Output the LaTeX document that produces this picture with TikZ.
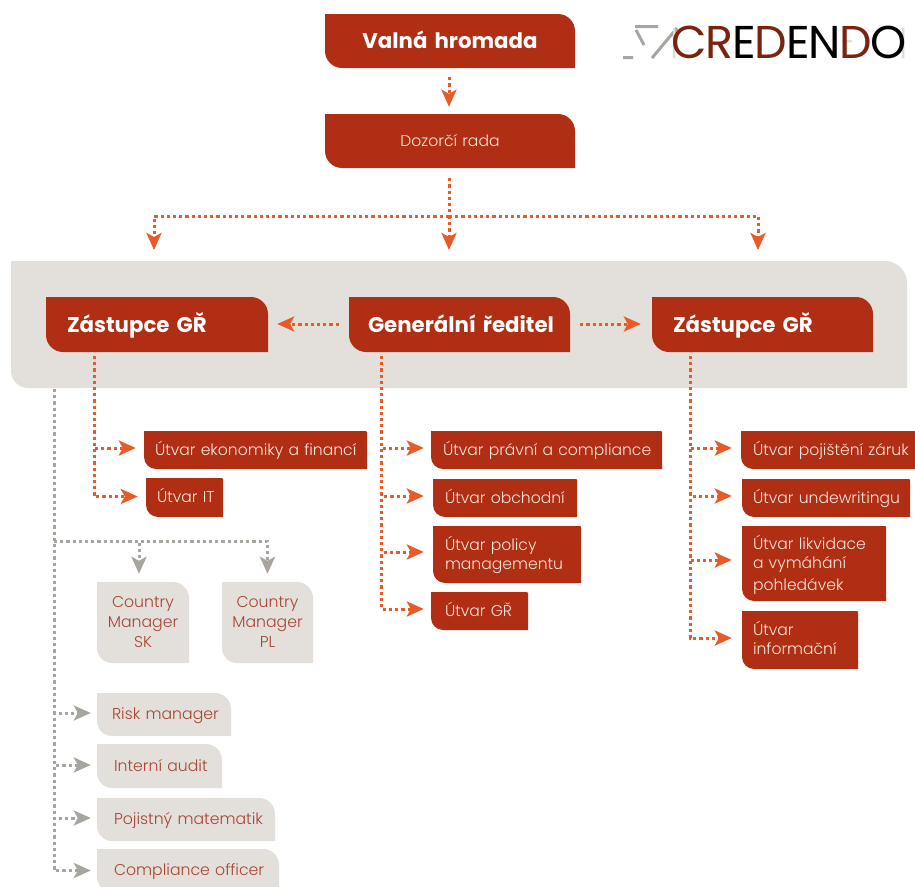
\documentclass[tikz,border=0pt]{standalone}
\usepackage{fontspec}
\setmainfont{Poppins}[UprightFont=* Light,BoldFont=* Bold]
\newfontfamily\logofont{Poppins}
\usetikzlibrary{arrows.meta,calc}
\definecolor{redbox}{HTML}{B02E13}
\definecolor{panelc}{HTML}{E3E0DC}
\definecolor{orangel}{HTML}{E85A28}
\definecolor{grayl}{HTML}{A8A5A0}
\definecolor{redtxt}{HTML}{A94433}
\definecolor{lightt}{HTML}{F6E6DC}
\definecolor{brownl}{HTML}{7A2410}
\definecolor{ghost}{HTML}{DDDAD7}
\tikzset{
 big shape/.style={fill=redbox,/utils/exec={\def\rtr{17}\def\rbl{17}}},
 mid shape/.style={big shape},
 bigc shape/.style={big shape},
 small shape/.style={fill=redbox,/utils/exec={\def\rtr{1}\def\rbl{12}}},
 soft shape/.style={fill=panelc,/utils/exec={\def\rtr{16}\def\rbl{15}}},
 softc shape/.style={soft shape},
 panel shape/.style={fill=panelc,/utils/exec={\def\rtr{22}\def\rbl{17}}},
 leftpad/.style={align=left,/utils/exec={\def\bxpre##1{\leftskip=##1pt\relax}}},
 centerpad/.style={align=center,/utils/exec={\def\bxpre##1{}}},
 big text/.style={font=\fontsize{21.3}{24}\selectfont\bfseries,text=white,leftpad},
 bigc text/.style={font=\fontsize{21.3}{24}\selectfont\bfseries,text=white,centerpad},
 mid text/.style={font=\fontsize{15.6}{19}\selectfont,text=lightt,centerpad},
 small text/.style={font=\fontsize{15.6}{19}\selectfont,text=lightt,leftpad},
 soft text/.style={font=\fontsize{15.7}{20}\selectfont,text=redtxt,leftpad},
 softc text/.style={font=\fontsize{15.7}{20}\selectfont,text=redtxt,centerpad},
 panel text/.style={centerpad},
 olink/.style={orangel,line width=3pt,dash pattern=on 3.2pt off 3pt,-{Stealth[length=17pt,width=15pt,inset=4pt]}},
 oline/.style={orangel,line width=3pt,dash pattern=on 3.2pt off 3pt},
 glink/.style={grayl,line width=3pt,dash pattern=on 3.2pt off 3pt,-{Stealth[length=17pt,width=15pt,inset=4pt]}},
 gline/.style={grayl,line width=3pt,dash pattern=on 3.2pt off 3pt},
 gap/.style={shorten >=8pt},
 logomark/.style={grayl,line width=3pt},
 logoghost/.style={ghost,line width=2.5pt},
}
% [kind]{name}{x1}{y1}{x2}{y2}{pad}{text}
\newcommand{\bx}[8][small]{%
 \fill[#1 shape] (#3,#4) -- (#5-\rtr,#4) .. controls (#5-0.45*\rtr,#4) and (#5,#4+0.45*\rtr) .. (#5,#4+\rtr) -- (#5,#6) -- (#3+\rbl,#6) .. controls (#3+0.45*\rbl,#6) and (#3,#6-0.45*\rbl) .. (#3,#6-\rbl) -- cycle;
 \pgfmathsetmacro{\bxw}{#5-#3}
 \pgfmathsetmacro{\bxh}{#6-#4}
 \node[#1 text,inner xsep=0pt,inner ysep=0pt,text width=\bxw pt,minimum height=\bxh pt] (#2) at ({(#3+#5)/2},{(#4+#6)/2}) {\bxpre{#7}\vphantom{Úp}#8\vphantom{Úp}\par};
}
\begin{document}
\begin{tikzpicture}[x=1pt,y=-1pt]
\useasboundingbox (0,0) rectangle (915,886);
% panel
\bx[panel]{panel}{11}{261}{907}{388}{0}{}
% top
\bx[bigc]{valna}{325}{14}{575}{68}{0}{Valná hromada}
\bx[mid]{dozor}{325}{114}{575}{168}{0}{Dozorčí rada}
% level 2
\bx[big]{zl}{46}{297}{268}{352}{21}{Zástupce GŘ}
\bx[big]{gr}{349}{297}{570}{352}{19}{Generální ředitel}
\bx[big]{zr}{652}{297}{873}{352}{21}{Zástupce GŘ}
% left column
\bx{ek}{144}{431}{367}{469}{11}{Útvar ekonomiky a financí}
\bx{it}{146}{478}{223}{517}{11}{Útvar IT}
% middle column
\bx{pr}{431}{431}{662}{469}{12}{Útvar právní a compliance}
\bx{ob}{433}{479}{577}{517}{12}{Útvar obchodní}
\bx{po}{433}{526}{581}{583}{12}{Útvar policy\\managementu}
\bx{ug}{431}{592}{528}{630}{14}{Útvar GŘ}
% right column
\bx{za}{741}{431}{920}{469}{12}{Útvar pojištění záruk}
\bx{un}{742}{479}{910}{517}{11}{Útvar undewritingu}
\bx{li}{742}{526}{886}{601}{11}{\raisebox{-3pt}{Útvar likvidace}\\\raisebox{-3pt}{a vymáhání}\\\raisebox{-3pt}{pohledávek}}
\bx{in}{742}{611}{858}{669}{11}{Útvar\\informační}
% gray boxes
\bx[softc]{sk}{97}{582}{189}{663}{0}{Country\\Manager\\SK}
\bx[softc]{pl}{222}{582}{313}{663}{0}{Country\\Manager\\PL}
\bx[soft]{ri}{97}{693}{231}{736}{15}{Risk manager}
\bx[soft]{au}{97}{744}{222}{788}{17}{Interní audit}
\bx[soft]{ma}{97}{798}{275}{841}{17}{Pojistný matematik}
\bx[soft]{co}{97}{849}{279}{892}{17}{Compliance officer}
% coordinates
\coordinate (rail) at (449,216);
\coordinate (pa) at (154,258);
\coordinate (pb) at (449,258);
\coordinate (pc) at (758,258);
\coordinate (tl) at (94,356);
\coordinate (tm) at (381.5,356);
\coordinate (tr) at (690,356);
\coordinate (tg) at (54,389);
\coordinate (railg) at (54,541);
% connectors
\draw[olink,shorten <=9pt,shorten >=7pt] ([xshift=-1pt]valna.south) -- ([xshift=-1pt]dozor.north);
\draw[oline,shorten <=10pt] ([xshift=-1pt]dozor.south) -- (rail);
\draw[olink,gap] (rail) -| (pa);
\draw[olink,gap] (rail) -| (pc);
\draw[olink,gap] (rail) -- (pb);
\draw[olink,shorten <=10pt,shorten >=9pt] ([yshift=0.5pt]gr.west) -- ([yshift=0.5pt]zl.east);
\draw[olink,shorten <=10pt,shorten >=11pt] ([yshift=0.5pt]gr.east) -- ([yshift=0.5pt]zr.west);
\foreach \t/\d in {ek/2,it/1}
  \draw[olink,gap] (tl) |- ([yshift=\d pt]\t.west);
\draw[olink,shorten >=7pt] (tm) |- ([yshift=2pt]pr.west);
\draw[olink,shorten >=9pt] (tm) |- ([yshift=2pt]ob.west);
\draw[olink,shorten >=9pt] (tm) |- ([yshift=2.5pt]po.west);
\draw[olink,shorten >=7pt] (tm) |- ([yshift=2pt]ug.west);
\draw[olink,shorten >=9pt] (tr) |- ([yshift=2pt]za.west);
\draw[olink,shorten >=10pt] (tr) |- ([yshift=2pt]un.west);
\draw[olink,shorten >=10pt] (tr) |- ([yshift=3.5pt]li.west);
\draw[olink,shorten >=10pt] (tr) |- ([yshift=2pt]in.west);
\draw[gline] (tg) -- (railg);
\draw[glink,gap] (railg) -| ([xshift=-4pt]sk.north);
\draw[glink,gap] (railg) -| (pl.north);
\foreach \t/\d in {ri/1.5,au/1,ma/1.5}
  \draw[glink,shorten >=6pt] (tg) |- ([yshift=\d pt]\t.west);
\draw[glink,shorten >=6pt] (tg) |- ([yshift=0pt]co.west);
% logo
\draw[logomark] (635,26.5) -- (658,26.5) (636,30) -- (644,45) (623,57.5) -- (633,57.5);
\draw[logomark] (677,28) -- (652,58);
\draw[logoghost] (674,28) -- (674,58) (737,41) -- (745,41) (815,28) -- (835,58) (842,41) -- (852,41) (903,28) -- (903,58);
\node[inner sep=0pt,anchor=west,font=\logofont\fontsize{46}{46}\selectfont] (logo) at (671,42) {%
 \textcolor{brownl}{C}\kern-1.2pt\textcolor{brownl}{R}\kern-1.2pt\textcolor{black}{E}\kern-1.2pt\textcolor{brownl}{D}\kern-1.2pt\textcolor{black}{E}\kern-1.2pt\textcolor{black}{N}\kern-1.2pt\textcolor{brownl}{D}\kern-1.2pt\textcolor{black}{O}};
\end{tikzpicture}
\end{document}
